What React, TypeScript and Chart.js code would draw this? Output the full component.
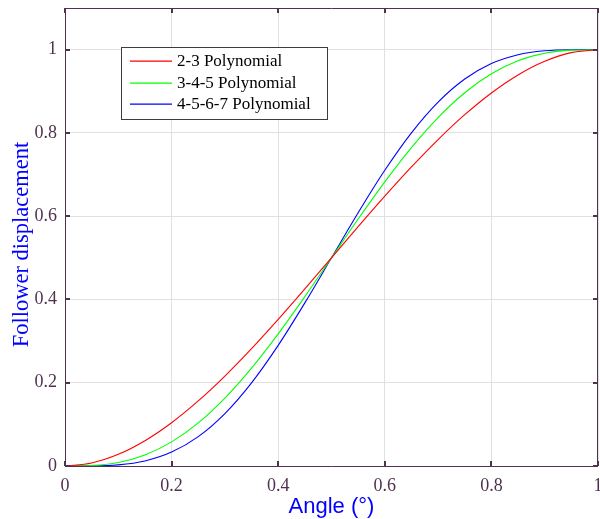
import React, { useEffect, useRef } from 'react';
import { Chart, registerables } from 'chart.js';

Chart.register(...registerables);

const xValues = [0, 0.05, 0.1, 0.15, 0.2, 0.25, 0.3, 0.35, 0.4, 0.45, 0.5, 0.55, 0.6, 0.65, 0.7, 0.75, 0.8, 0.85, 0.9, 0.95, 1];
const poly23 = [0, 0.00725, 0.028, 0.06075, 0.104, 0.15625, 0.216, 0.28175, 0.352, 0.42525, 0.5, 0.57475, 0.648, 0.71825, 0.784, 0.84375, 0.896, 0.93925, 0.972, 0.99275, 1];
const poly345 = [0, 0.00116, 0.00856, 0.02661, 0.05792, 0.10352, 0.16308, 0.23517, 0.31744, 0.40687, 0.5, 0.59313, 0.68256, 0.76483, 0.83692, 0.89648, 0.94208, 0.97339, 0.99144, 0.99884, 1];
const poly4567 = [0, 0.00019, 0.00273, 0.0121, 0.03334, 0.07056, 0.12604, 0.19985, 0.28979, 0.39171, 0.5, 0.60829, 0.71021, 0.80015, 0.87396, 0.92944, 0.96666, 0.9879, 0.99727, 0.99981, 1];
const seriesLabels = ['2-3 Polynomial', '3-4-5 Polynomial', '4-5-6-7 Polynomial'];
const seriesColors = ['#ff0000', '#00ff00', '#0000ff'];
const xTicks = [0, 0.2, 0.4, 0.6, 0.8, 1];
const yTicks = [0, 0.2, 0.4, 0.6, 0.8, 1];
const xTitle = 'Angle (°)';
const yTitle = 'Follower displacement';

const AXIS_COLOR = '#50324f';
const GRID_COLOR = '#e2dfe2';
const SERIF = '"Liberation Serif", "Times New Roman", serif';
const SANS = '"Liberation Sans", Arial, sans-serif';

const framePlugin = {
  id: 'frameAndExtras',
  afterDatasetsDraw(chart: any) {
    const { ctx, chartArea, scales } = chart;
    const { left, right, top, bottom } = chartArea;
    ctx.save();
    // frame
    ctx.strokeStyle = AXIS_COLOR;
    ctx.lineWidth = 1;
    ctx.beginPath();
    ctx.rect(Math.round(left) + 0.5, Math.round(top) + 0.5, Math.round(right) - Math.round(left) - 1, Math.round(bottom) - Math.round(top));
    ctx.stroke();
    // ticks inward
    const tl = 5;
    ctx.lineWidth = 2;
    ctx.beginPath();
    xTicks.forEach((v) => {
      const px = Math.round(scales.x.getPixelForValue(v));
      ctx.moveTo(px, bottom);
      ctx.lineTo(px, bottom - tl);
      ctx.moveTo(px, top);
      ctx.lineTo(px, top + tl);
    });
    yTicks.forEach((v) => {
      const py = Math.round(scales.y.getPixelForValue(v));
      ctx.moveTo(left, py);
      ctx.lineTo(left + tl, py);
      ctx.moveTo(right, py);
      ctx.lineTo(right - tl, py);
    });
    ctx.stroke();

    // axis titles
    ctx.fillStyle = '#0000ff';
    ctx.font = `22px ${SANS}`;
    ctx.textAlign = 'center';
    ctx.textBaseline = 'alphabetic';
    ctx.fillText(xTitle, (left + right) / 2, 513);
    ctx.save();
    ctx.translate(28, 244.5);
    ctx.rotate(-Math.PI / 2);
    ctx.font = `22.5px ${SERIF}`;
    ctx.fillText(yTitle, 0, 0);
    ctx.restore();

    // legend
    const lx = Math.round(left + 56);
    const ly = Math.round(top + 39);
    const lw = 206;
    const lh = 72;
    ctx.fillStyle = '#ffffff';
    ctx.fillRect(lx, ly, lw, lh);
    ctx.strokeStyle = '#3c3c3c';
    ctx.lineWidth = 1;
    ctx.strokeRect(lx + 0.5, ly + 0.5, lw, lh);
    ctx.font = `17px ${SERIF}`;
    ctx.textAlign = 'left';
    ctx.textBaseline = 'middle';
    chart.data.datasets.forEach((ds: any, i: number) => {
      const yy = Math.round(ly + 14 + i * 21.5);
      ctx.strokeStyle = ds.borderColor;
      ctx.lineWidth = 1.3;
      ctx.beginPath();
      ctx.moveTo(lx + 9, yy + 0.2);
      ctx.lineTo(lx + 51, yy + 0.2);
      ctx.stroke();
      ctx.fillStyle = '#000000';
      ctx.fillText(ds.label, lx + 56, yy + 0.5);
    });
    ctx.restore();
  },
};

const zeroPadding = (s: any) => {
  s.paddingTop = 0;
  s.paddingBottom = 0;
  s.paddingLeft = 0;
  s.paddingRight = 0;
};

export default function App() {
  const canvasRef = useRef<HTMLCanvasElement | null>(null);

  useEffect(() => {
    if (!canvasRef.current) return;
    const datasets = [poly23, poly345, poly4567].map((vals, i) => ({
      label: seriesLabels[i],
      data: xValues.map((x, j) => ({ x, y: vals[j] })),
      borderColor: seriesColors[i],
      backgroundColor: seriesColors[i],
      borderWidth: 1.1,
      pointRadius: 0,
      fill: false,
      cubicInterpolationMode: 'monotone' as const,
    }));
    const chart = new Chart(canvasRef.current, {
      type: 'line',
      data: { datasets },
      options: {
        animation: false,
        responsive: false,
        maintainAspectRatio: false,
        layout: { padding: { top: 8, left: 0, right: 2, bottom: 0 } },
        plugins: { legend: { display: false }, tooltip: { enabled: false } },
        scales: {
          x: {
            type: 'linear',
            min: 0,
            max: 1,
            afterBuildTicks: (s: any) => {
              s.ticks = xTicks.map((v) => ({ value: v }));
            },
            afterFit: (s: any) => {
              s.height = 53;
              zeroPadding(s);
            },
            grid: { color: GRID_COLOR, drawTicks: false },
            border: { display: false },
            ticks: {
              color: AXIS_COLOR,
              font: { family: SERIF, size: 18 },
              padding: 9,
              maxRotation: 0,
              callback: (v: any) => String(v),
            },
          },
          y: {
            type: 'linear',
            min: 0,
            max: 1.1,
            afterBuildTicks: (s: any) => {
              s.ticks = yTicks.map((v) => ({ value: v }));
            },
            afterFit: (s: any) => {
              s.width = 65;
              zeroPadding(s);
            },
            grid: { color: GRID_COLOR, drawTicks: false },
            border: { display: false },
            ticks: {
              color: AXIS_COLOR,
              font: { family: SERIF, size: 18 },
              padding: 8,
              callback: (v: any) => String(v),
            },
          },
        },
      },
      plugins: [framePlugin],
    });
    return () => chart.destroy();
  }, []);

  return (
    <div style={{ position: 'fixed', left: 0, top: 0, width: 600, height: 519, overflow: 'hidden', background: '#fff' }}>
      <canvas ref={canvasRef} width={600} height={519} style={{ display: 'block' }} />
    </div>
  );
}
